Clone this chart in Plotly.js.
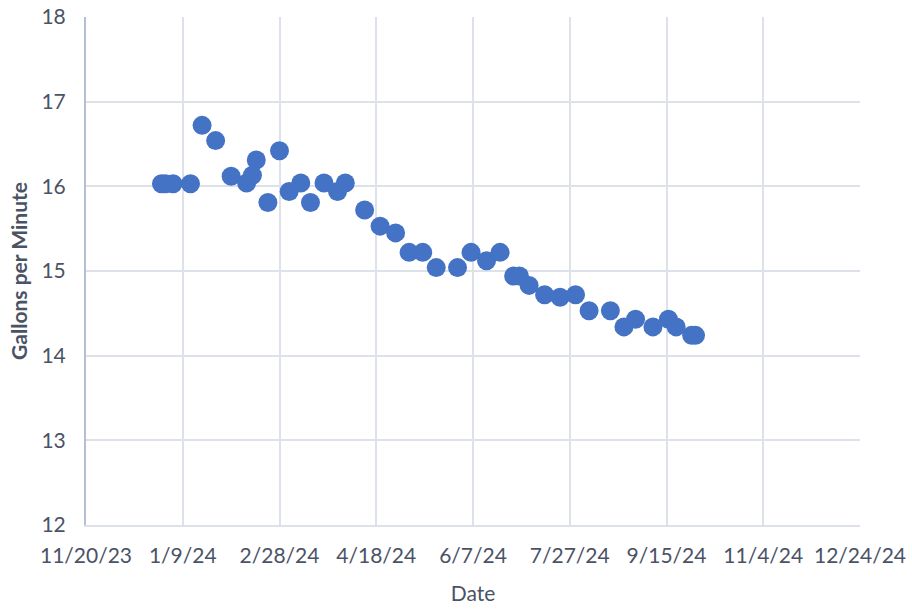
<!DOCTYPE html>
<html>
<head>
<meta charset="utf-8">
<script src="https://cdn.plot.ly/plotly-3.0.1.min.js"></script>
<style>html,body{margin:0;padding:0;background:#fff;}#chart{width:912px;height:611px;}</style>
</head>
<body>
<div id="chart"></div>
<script>
const dates = ['2023-12-29','2023-12-31','2024-01-04','2024-01-13','2024-01-19','2024-01-26','2024-02-03','2024-02-11','2024-02-14','2024-02-16','2024-02-22','2024-02-28','2024-03-04','2024-03-10','2024-03-15','2024-03-22','2024-03-29','2024-04-02','2024-04-12','2024-04-20','2024-04-28','2024-05-05','2024-05-12','2024-05-19','2024-05-30','2024-06-06','2024-06-14','2024-06-21','2024-06-28','2024-07-01','2024-07-06','2024-07-14','2024-07-22','2024-07-30','2024-08-06','2024-08-17','2024-08-24','2024-08-30','2024-09-08','2024-09-16','2024-09-20','2024-09-28','2024-09-30'];
const gpm = [16.03,16.03,16.03,16.03,16.72,16.54,16.12,16.04,16.13,16.31,15.81,16.42,15.94,16.04,15.81,16.04,15.94,16.04,15.72,15.53,15.45,15.22,15.22,15.04,15.04,15.22,15.12,15.22,14.94,14.94,14.83,14.72,14.69,14.72,14.53,14.53,14.34,14.43,14.34,14.43,14.34,14.24,14.24];
const tickDates = ['2023-11-20','2024-01-09','2024-02-28','2024-04-18','2024-06-07','2024-07-27','2024-09-15','2024-11-04','2024-12-24'];
const tickLabels = ['11/20/23','1/9/24','2/28/24','4/18/24','6/7/24','7/27/24','9/15/24','11/4/24','12/24/24'];

const font = 'Lato, "Open Sans", sans-serif';
const txt = '#4a5365';
Plotly.newPlot('chart', [{
  x: dates, y: gpm, type: 'scatter', mode: 'markers',
  marker: {size: 19, color: '#4472C4', line: {width: 0}},
  hoverinfo: 'x+y'
}], {
  width: 912, height: 611,
  margin: {l: 86, r: 52, t: 17, b: 86},
  paper_bgcolor: '#fff', plot_bgcolor: '#fff',
  showlegend: false,
  xaxis: {
    type: 'date', range: ['2023-11-20','2024-12-24'],
    tickmode: 'array', tickvals: tickDates, ticktext: tickLabels,
    showgrid: true, gridcolor: '#dde2ea', gridwidth: 2,
    zeroline: false, showline: true, linecolor: '#dde2ea', linewidth: 2,
    ticks: 'outside', ticklen: 11, tickcolor: 'rgba(0,0,0,0)',
    tickfont: {family: font, size: 21, color: txt},
    title: {text: 'Date', font: {family: font, size: 21, color: txt}, standoff: 20}
  },
  yaxis: {
    range: [12, 18], dtick: 1, tick0: 12,
    showgrid: true, gridcolor: '#dde2ea', gridwidth: 2,
    zeroline: false, showline: true, linecolor: '#b4bfd2', linewidth: 2,
    ticks: 'outside', ticklen: 14, tickcolor: 'rgba(0,0,0,0)',
    tickfont: {family: font, size: 21, color: txt},
    title: {text: '<b>Gallons per Minute</b>', font: {family: font, size: 21, color: txt}, standoff: 8}
  }
}, {displayModeBar: false, staticPlot: true});
</script>
</body>
</html>
